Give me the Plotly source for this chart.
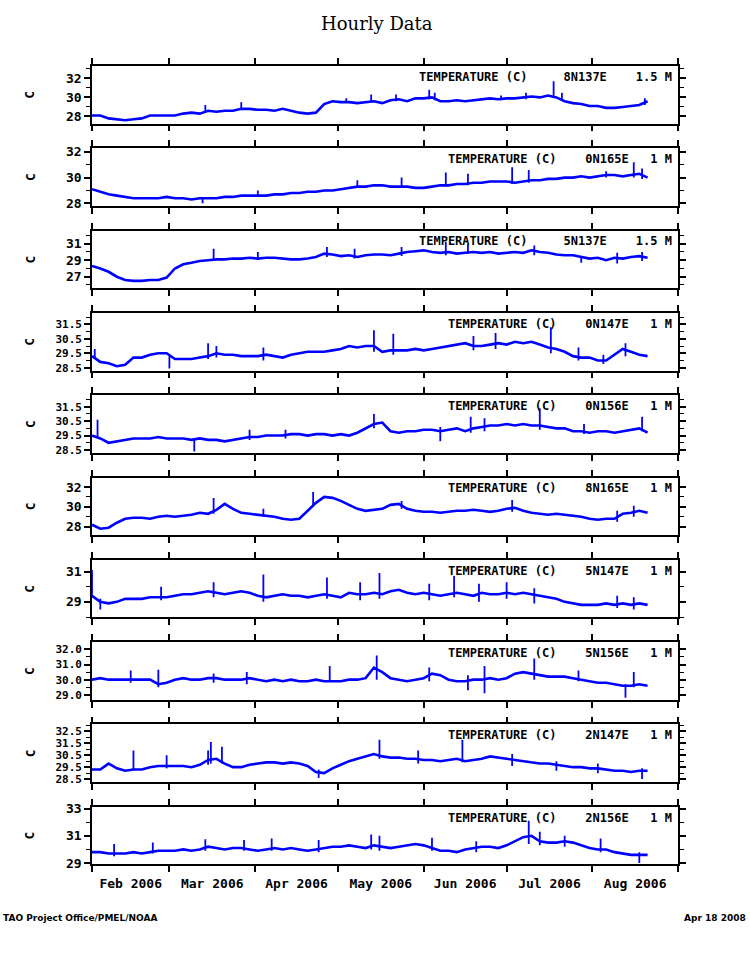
import plotly.graph_objects as go
import pandas as pd

# ---------------- data ----------------
START = "2006-02-01"
N_STEPS = 68          # samples every 3 days, Feb 1 .. Aug 22
STEP = "3D"

TITLE = "Hourly Data"
VAR_LABEL = "TEMPERATURE (C)"
STATIONS = ["8N137E", "0N165E", "5N137E", "0N147E", "0N156E",
            "8N165E", "5N147E", "5N156E", "2N147E", "2N156E"]
DEPTHS = ["1.5 M", "1 M", "1.5 M", "1 M", "1 M", "1 M", "1 M", "1 M", "1 M", "1 M"]

T1 = [28.1, 28.1, 27.8, 27.7, 27.6, 27.7, 27.8, 28.1, 28.1, 28.1, 28.1, 28.3, 28.4, 28.3, 28.6, 28.5, 28.6,
      28.6, 28.8, 28.8, 28.7, 28.7, 28.6, 28.8, 28.6, 28.4, 28.3, 28.4, 29.3, 29.6, 29.5, 29.5, 29.4, 29.5,
      29.6, 29.4, 29.7, 29.8, 29.6, 29.9, 29.9, 30.0, 29.6, 29.6, 29.7, 29.6, 29.7, 29.8, 29.9, 29.8, 29.9,
      29.9, 30.0, 30.1, 30.0, 30.2, 30.0, 29.6, 29.4, 29.3, 29.1, 29.1, 28.9, 28.9, 29.0, 29.1, 29.2, 29.6]
T2 = [29.1, 28.9, 28.7, 28.6, 28.5, 28.4, 28.4, 28.4, 28.4, 28.5, 28.4, 28.4, 28.3, 28.4, 28.4, 28.4, 28.5,
      28.5, 28.6, 28.6, 28.6, 28.6, 28.7, 28.7, 28.8, 28.8, 28.9, 28.9, 29.0, 29.0, 29.1, 29.2, 29.3, 29.3,
      29.4, 29.4, 29.3, 29.3, 29.3, 29.2, 29.2, 29.3, 29.4, 29.4, 29.5, 29.5, 29.6, 29.6, 29.7, 29.7, 29.7,
      29.6, 29.7, 29.8, 29.8, 29.9, 29.9, 30.0, 30.0, 30.1, 30.0, 30.1, 30.2, 30.2, 30.1, 30.2, 30.3, 30.0]
T3 = [28.3, 28.0, 27.6, 27.0, 26.6, 26.5, 26.5, 26.6, 26.6, 26.9, 28.0, 28.5, 28.7, 28.9, 29.0, 29.1, 29.1,
      29.2, 29.2, 29.3, 29.2, 29.3, 29.3, 29.2, 29.1, 29.1, 29.2, 29.4, 29.8, 29.7, 29.5, 29.6, 29.4, 29.6,
      29.7, 29.7, 29.6, 29.8, 30.0, 30.1, 30.2, 30.0, 29.9, 30.0, 29.8, 29.9, 30.0, 29.9, 30.0, 29.8, 29.9,
      30.0, 29.9, 30.2, 30.0, 29.9, 29.7, 29.6, 29.6, 29.4, 29.2, 29.3, 29.0, 29.3, 29.2, 29.4, 29.5, 29.3]
T4 = [29.3, 28.9, 28.8, 28.6, 28.7, 29.2, 29.2, 29.4, 29.5, 29.5, 29.1, 29.1, 29.1, 29.2, 29.3, 29.5, 29.4,
      29.4, 29.3, 29.3, 29.3, 29.4, 29.3, 29.2, 29.4, 29.5, 29.6, 29.6, 29.6, 29.7, 29.8, 30.0, 29.9, 30.0,
      30.0, 29.6, 29.7, 29.7, 29.7, 29.8, 29.7, 29.8, 29.9, 30.0, 30.1, 30.2, 30.0, 30.0, 30.1, 30.2, 30.1,
      30.3, 30.2, 30.3, 30.1, 29.9, 29.8, 29.6, 29.3, 29.2, 29.2, 29.0, 29.0, 29.4, 29.8, 29.6, 29.4, 29.3]
T5 = [29.5, 29.3, 29.0, 29.1, 29.2, 29.3, 29.3, 29.3, 29.4, 29.3, 29.3, 29.3, 29.2, 29.3, 29.2, 29.2, 29.1,
      29.2, 29.3, 29.4, 29.4, 29.5, 29.5, 29.5, 29.6, 29.6, 29.5, 29.6, 29.6, 29.5, 29.6, 29.5, 29.7, 30.0,
      30.3, 30.4, 29.8, 29.7, 29.8, 29.8, 29.9, 29.9, 29.8, 29.9, 30.0, 29.8, 30.0, 30.1, 30.2, 30.2, 30.3,
      30.2, 30.3, 30.2, 30.2, 30.1, 30.0, 30.0, 29.8, 29.8, 29.7, 29.8, 29.8, 29.7, 29.8, 29.9, 30.0, 29.7]
T6 = [28.2, 27.8, 27.9, 28.4, 28.8, 28.9, 28.9, 28.8, 29.0, 29.1, 29.0, 29.1, 29.2, 29.4, 29.3, 29.7, 30.3,
      29.8, 29.4, 29.3, 29.2, 29.1, 29.0, 28.8, 28.7, 28.8, 29.6, 30.4, 31.0, 30.9, 30.6, 30.2, 29.8, 29.6,
      29.7, 29.8, 30.2, 30.3, 29.8, 29.6, 29.5, 29.5, 29.4, 29.5, 29.6, 29.6, 29.7, 29.6, 29.5, 29.6, 29.8,
      29.9, 29.6, 29.4, 29.3, 29.2, 29.3, 29.2, 29.1, 29.0, 28.8, 28.7, 28.8, 28.8, 29.3, 29.4, 29.6, 29.4]
T7 = [29.4, 29.0, 28.9, 29.0, 29.2, 29.2, 29.2, 29.3, 29.3, 29.3, 29.4, 29.5, 29.5, 29.6, 29.7, 29.6, 29.5,
      29.6, 29.7, 29.6, 29.4, 29.3, 29.4, 29.5, 29.4, 29.4, 29.3, 29.4, 29.5, 29.4, 29.3, 29.6, 29.5, 29.5,
      29.6, 29.5, 29.7, 29.8, 29.6, 29.5, 29.6, 29.5, 29.4, 29.5, 29.6, 29.5, 29.4, 29.6, 29.5, 29.5, 29.6,
      29.5, 29.6, 29.5, 29.4, 29.3, 29.2, 29.0, 28.9, 28.8, 28.8, 28.8, 28.9, 28.8, 28.9, 28.8, 28.9, 28.8]
T8 = [30.0, 30.1, 30.0, 30.0, 30.0, 30.0, 30.0, 30.0, 29.7, 29.8, 30.0, 30.1, 30.0, 30.0, 30.1, 30.1, 30.0,
      30.0, 30.0, 30.1, 30.0, 29.9, 30.0, 29.9, 30.0, 29.9, 29.9, 30.0, 29.9, 29.9, 29.9, 30.0, 30.0, 30.1,
      30.8, 30.5, 30.1, 30.0, 29.9, 30.0, 30.1, 30.4, 30.3, 30.0, 29.9, 29.9, 30.0, 30.0, 30.1, 30.0, 30.1,
      30.4, 30.5, 30.4, 30.3, 30.2, 30.2, 30.2, 30.1, 30.0, 29.9, 29.8, 29.8, 29.7, 29.6, 29.6, 29.7, 29.6]
T9 = [29.3, 29.3, 29.8, 29.4, 29.2, 29.3, 29.3, 29.5, 29.6, 29.6, 29.6, 29.6, 29.5, 29.7, 30.1, 30.2, 29.8,
      29.5, 29.5, 29.7, 29.8, 29.9, 29.9, 29.8, 29.9, 29.8, 29.6, 29.1, 29.0, 29.4, 29.7, 30.0, 30.2, 30.4,
      30.6, 30.4, 30.3, 30.3, 30.2, 30.2, 30.1, 30.1, 30.0, 30.1, 30.2, 30.0, 30.1, 30.2, 30.4, 30.3, 30.2,
      30.1, 30.0, 29.9, 29.8, 29.8, 29.7, 29.6, 29.5, 29.5, 29.4, 29.4, 29.3, 29.2, 29.2, 29.1, 29.2, 29.2]
T10 = [29.8, 29.8, 29.7, 29.7, 29.7, 29.8, 29.7, 29.8, 29.9, 29.9, 29.9, 30.0, 29.9, 30.0, 30.2, 30.1, 30.0,
       30.1, 30.1, 30.0, 29.9, 30.0, 30.1, 30.0, 30.1, 30.0, 29.9, 30.0, 30.1, 30.2, 30.2, 30.3, 30.2, 30.1,
       30.3, 30.2, 30.1, 30.2, 30.3, 30.4, 30.3, 30.1, 29.9, 29.9, 29.8, 30.0, 30.1, 30.2, 30.2, 30.1, 30.3,
       30.6, 30.9, 31.0, 30.6, 30.5, 30.5, 30.6, 30.5, 30.3, 30.1, 30.0, 30.0, 29.8, 29.7, 29.6, 29.6, 29.6]

# short hourly excursions: (days after Feb 1, low, high)
SPIKES1 = [(41, 28.5, 29.2), (54, 28.7, 29.5), (92, 29.4, 29.9), (101, 29.5, 30.3), (110, 29.6, 30.3),
           (122, 29.8, 30.8), (124, 29.7, 30.5), (148, 29.7, 30.2), (157, 29.8, 30.5), (167, 30.0, 31.7),
           (170, 29.8, 30.5), (200, 29.2, 29.9)]
SPIKES2 = [(40, 28.0, 28.4), (60, 28.5, 29.0), (96, 29.2, 29.8), (112, 29.2, 30.0), (128, 29.3, 30.4),
           (136, 29.4, 30.3), (152, 29.5, 30.8), (158, 29.6, 30.6), (186, 30.0, 30.5), (196, 30.0, 31.2),
           (199, 29.9, 30.7)]
SPIKES3 = [(44, 29.0, 30.4), (60, 29.1, 30.0), (85, 29.4, 30.6), (95, 29.2, 30.4), (112, 29.5, 30.6),
           (128, 29.6, 31.2), (136, 29.8, 30.9), (160, 29.6, 30.8), (177, 28.7, 29.5), (190, 28.6, 29.9),
           (199, 28.9, 30.0)]
SPIKES4 = [(1, 29.1, 29.8), (28, 28.45, 29.3), (42, 29.1, 30.2), (45, 29.2, 30.0), (62, 29.0, 29.9),
           (102, 29.6, 31.1), (109, 29.4, 30.85), (138, 29.7, 30.7), (146, 29.8, 30.9), (166, 29.5, 31.3),
           (176, 29.0, 29.9), (185, 28.75, 29.4), (193, 29.3, 30.2)]
SPIKES5 = [(2, 29.4, 30.6), (37, 28.4, 29.2), (57, 29.2, 29.9), (70, 29.3, 29.9), (102, 30.0, 31.0),
           (126, 29.1, 30.1), (137, 29.7, 30.8), (142, 29.8, 30.7), (162, 29.9, 31.4), (178, 29.6, 30.3),
           (199, 29.8, 30.8)]
SPIKES6 = [(44, 29.3, 30.9), (62, 29.0, 29.8), (80, 30.0, 31.5), (112, 29.8, 30.6), (152, 29.5, 30.7),
           (190, 28.5, 29.6), (196, 29.0, 30.1)]
SPIKES7 = [(0, 29.3, 31.1), (3, 28.5, 29.2), (25, 29.1, 30.0), (44, 29.3, 30.3), (62, 29.0, 30.8),
           (85, 29.2, 30.6), (97, 29.1, 30.3), (104, 29.2, 30.9), (122, 29.1, 30.2), (131, 29.3, 30.7),
           (140, 29.0, 30.2), (150, 29.2, 30.3), (160, 28.9, 29.9), (190, 28.6, 29.4), (196, 28.5, 29.3)]
SPIKES8 = [(14, 29.8, 30.6), (24, 29.5, 30.65), (44, 29.8, 30.4), (56, 29.7, 30.5), (86, 29.9, 30.9),
           (103, 30.0, 31.6), (122, 29.9, 30.8), (136, 29.3, 30.3), (142, 29.1, 30.9), (160, 30.0, 31.4),
           (176, 29.9, 30.6), (193, 28.8, 29.7), (196, 29.5, 30.5)]
SPIKES9 = [(15, 29.3, 30.9), (27, 29.4, 30.5), (42, 29.7, 30.9), (43, 29.8, 31.6), (47, 29.8, 31.2),
           (82, 28.6, 29.3), (104, 30.2, 31.8), (118, 29.8, 30.9), (134, 29.9, 31.8), (152, 29.6, 30.6),
           (168, 29.2, 30.0), (183, 29.0, 29.8), (199, 28.5, 29.4)]
SPIKES10 = [(8, 29.5, 30.4), (22, 29.7, 30.5), (41, 29.9, 30.75), (55, 29.9, 30.7), (65, 29.9, 30.8),
            (82, 29.8, 30.7), (101, 30.0, 31.1), (104, 29.9, 31.0), (123, 29.9, 30.85), (139, 29.8, 30.6),
            (158, 30.4, 32.1), (162, 30.3, 31.3), (171, 30.2, 31.0), (184, 29.8, 30.8), (198, 29.0, 29.8)]

Y_RANGES = [[27.25, 33.3], [27.8, 32.28], [25.6, 32.6], [28.3, 32.3], [28.3, 32.3],
            [27.15, 32.95], [27.97, 31.77], [28.67, 32.48], [28.25, 33.07], [28.9, 33.13]]
Y_TICKS = [[28, 30, 32], [28, 30, 32], [27, 29, 31], [28.5, 29.5, 30.5, 31.5], [28.5, 29.5, 30.5, 31.5],
           [28, 30, 32], [29, 31], [29.0, 30.0, 31.0, 32.0], [28.5, 29.5, 30.5, 31.5, 32.5], [29, 31, 33]]
Y_TICKTEXT = [["28", "30", "32"], ["28", "30", "32"], ["27", "29", "31"],
              ["28.5", "29.5", "30.5", "31.5"], ["28.5", "29.5", "30.5", "31.5"],
              ["28", "30", "32"], ["29", "31"], ["29.0", "30.0", "31.0", "32.0"],
              ["28.5", "29.5", "30.5", "31.5", "32.5"], ["29", "31", "33"]]
Y_MINOR = [1, 1, 1, 0.5, 0.5, 1, 1, 0.5, 0.5, 1]
X_RANGE = ["2006-02-01", "2006-09-01"]
FOOT_LEFT = "TAO Project Office/PMEL/NOAA"
FOOT_RIGHT = "Apr 18 2008"

SERIES = [T1, T2, T3, T4, T5, T6, T7, T8, T9, T10]
SPIKES = [SPIKES1, SPIKES2, SPIKES3, SPIKES4, SPIKES5, SPIKES6, SPIKES7, SPIKES8, SPIKES9, SPIKES10]

# ---------------- figure ----------------
W, H = 750, 964
X0, X1 = 92, 678
TOP0, PITCH, PH = 60.7, 83.35, 58.4
BLUE = "#0000ff"
MONO = "DejaVu Sans Mono"

dates = pd.date_range(START, periods=N_STEPS, freq=STEP)
start_ts = pd.Timestamp(START)

fig = go.Figure()
annotations = []

for i in range(10):
    n = i + 1
    xa = "x" if n == 1 else f"x{n}"
    ya = "y" if n == 1 else f"y{n}"
    fig.add_trace(go.Scatter(x=dates, y=SERIES[i], mode="lines",
                             line=dict(color=BLUE, width=2.6), xaxis=xa, yaxis=ya,
                             showlegend=False, hoverinfo="skip"))
    sx, sy = [], []
    for d, lo, hi in SPIKES[i]:
        t = start_ts + pd.Timedelta(days=d)
        sx += [t, t, None]
        sy += [lo, hi, None]
    fig.add_trace(go.Scatter(x=sx, y=sy, mode="lines", line=dict(color=BLUE, width=1.8),
                             xaxis=xa, yaxis=ya, showlegend=False, hoverinfo="skip"))

    top = TOP0 + i * PITCH
    bot = top + PH
    dom_y = [1 - bot / H, 1 - top / H]
    last = (i == 9)
    xkey = "xaxis" if n == 1 else f"xaxis{n}"
    ykey = "yaxis" if n == 1 else f"yaxis{n}"
    dense = any("." in s for s in Y_TICKTEXT[i])
    fig.layout[xkey] = dict(
        domain=[X0 / W, X1 / W], anchor=ya, range=X_RANGE, type="date",
        tick0="2006-02-01", dtick="M1", ticks="outside", ticklen=6, tickwidth=1.5,
        tickcolor="black", showline=True, linewidth=1.6, linecolor="black",
        mirror="allticks", showgrid=False, zeroline=False,
        showticklabels=last, tickformat="%b %Y", ticklabelmode="period",
        tickfont=dict(family=MONO, size=13, color="black", weight="bold"),
    )
    fig.layout[ykey] = dict(
        domain=dom_y, anchor=xa, range=Y_RANGES[i],
        tickmode="array", tickvals=Y_TICKS[i], ticktext=Y_TICKTEXT[i],
        ticks="outside", ticklen=6, tickwidth=1.5, tickcolor="black",
        minor=dict(dtick=Y_MINOR[i], tick0=0, ticks="outside", ticklen=4, tickwidth=1.2,
                   tickcolor="black", showgrid=False),
        showline=True, linewidth=1.6, linecolor="black", mirror="allticks",
        showgrid=False, zeroline=False,
        tickfont=dict(family=MONO, size=11 if dense else 13, color="black", weight="bold"),
    )
    # y-axis unit label
    annotations.append(dict(xref="paper", yref="paper", x=30 / W, y=1 - (top + PH / 2) / H,
                            text="C", showarrow=False, textangle=-90,
                            font=dict(family=MONO, size=13, color="black", weight="bold"),
                            xanchor="center", yanchor="middle"))
    # panel label
    sp = "\u00a0"
    gap1 = 5 if DEPTHS[i] == "1.5 M" else 4
    gap2 = 4 if DEPTHS[i] == "1.5 M" else 3
    label = VAR_LABEL + sp * gap1 + STATIONS[i] + sp * gap2 + DEPTHS[i]
    annotations.append(dict(xref="paper", yref="paper", x=674 / W, y=1 - (top + 11) / H,
                            text=label, showarrow=False, xanchor="right", yanchor="middle",
                            font=dict(family=MONO, size=12, color="black", weight="bold")))

annotations.append(dict(xref="paper", yref="paper", x=377 / W, y=1 - 18 / H, text=TITLE,
                        showarrow=False, xanchor="center", yanchor="middle",
                        font=dict(family="DejaVu Serif", size=18, color="black")))
annotations.append(dict(xref="paper", yref="paper", x=1 / W, y=1 - 924 / H, text=FOOT_LEFT,
                        showarrow=False, xanchor="left", yanchor="middle",
                        font=dict(family="DejaVu Sans", size=9, color="black", weight="bold")))
annotations.append(dict(xref="paper", yref="paper", x=748 / W, y=1 - 924 / H, text=FOOT_RIGHT,
                        showarrow=False, xanchor="right", yanchor="middle",
                        font=dict(family="DejaVu Sans", size=9, color="black", weight="bold")))

fig.update_layout(width=W, height=H, margin=dict(l=0, r=0, t=0, b=0),
                  paper_bgcolor="white", plot_bgcolor="white",
                  annotations=annotations, showlegend=False)

fig.write_html("out.html")
